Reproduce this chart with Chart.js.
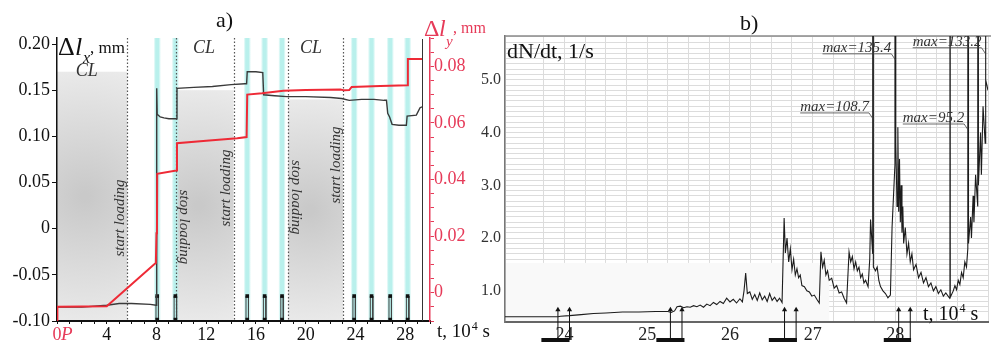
<!DOCTYPE html>
<html><head><meta charset="utf-8">
<script src="https://cdn.jsdelivr.net/npm/chart.js@4.4.1/dist/chart.umd.min.js"></script>
<style>
html,body{margin:0;padding:0;background:#fff;width:991px;height:342px;overflow:hidden;}
#ca{position:absolute;left:0;top:0;}
#cb{position:absolute;left:470px;top:0;}
</style></head><body>
<canvas id="ca" width="495" height="342"></canvas>
<canvas id="cb" width="521" height="342"></canvas>
<script>
// ---------- Panel a) data ----------
const dxTime  = [0, 2, 4, 5, 6, 7.5, 7.98, 8.02, 8.06, 8.3, 8.6, 9.0, 9.6, 9.65, 11, 12.5, 14, 15.1, 15.25, 15.3, 16, 16.55, 16.62, 17.5, 18.5, 20, 22, 22.9, 23.5, 24.5, 25.5, 26.3, 26.5, 26.6, 26.75, 26.95, 27.5, 28.1, 28.16, 28.9, 29.2, 29.36];
const dxValue = [-0.085, -0.085, -0.083, -0.081, -0.081, -0.082, -0.083, 0.152, 0.124, 0.121, 0.120, 0.119, 0.119, 0.152, 0.153, 0.154, 0.156, 0.157, 0.157, 0.170, 0.170, 0.169, 0.145, 0.144, 0.143, 0.143, 0.142, 0.141, 0.139, 0.140, 0.140, 0.139, 0.139, 0.125, 0.121, 0.113, 0.112, 0.112, 0.122, 0.123, 0.131, 0.132];
const dyTime  = [0, 0.03, 4.0, 7.8, 7.95, 8.0, 8.04, 8.06, 9.6, 9.65, 12, 14.5, 15.25, 15.3, 16.5, 18.2, 20, 22.8, 23.1, 23.5, 23.7, 26, 28.2, 28.22, 29.36];
const dyValue = [-0.01, -0.005, -0.0048, 0.010, 0.0105, 0.021, 0.022, 0.042, 0.0432, 0.0528, 0.0537, 0.0546, 0.055, 0.070, 0.0705, 0.0714, 0.0716, 0.0718, 0.0715, 0.0716, 0.0727, 0.073, 0.0733, 0.0826, 0.0826];
const xTicksA = [0, 4, 8, 12, 16, 20, 24, 28];
const yTicksA = [-0.10, -0.05, 0, 0.05, 0.10, 0.15, 0.20];
const pulseTimes = [8.06, 9.52, 15.3, 16.7, 18.1, 23.9, 25.3, 26.8, 28.2];
const pulseLevels = [-0.0985, -0.073];
const clampStart = [0, 9.6, 18.6];
const clampEnd   = [5.65, 14.2, 23.0];
const clampTop   = [0.17, 0.15, 0.14];
const clampLabelT = [1.5, 10.94, 19.55];
const clampLabelV = [0.165, 0.190, 0.190];
const switchTimes  = [5.65, 9.6, 14.2, 18.6, 23.0];
const switchLabels = ['start loading', 'stop loading', 'start loading', 'stop loading', 'start loading'];
const switchLabelV = [0.0116, 0.0018, 0.044, 0.034, 0.069];
const recordEnd = 29.36;

// ---------- Panel b) data ----------
const bTime = [
 23.28, 23.60, 23.92, 23.95, 24.06, 24.20, 24.35, 24.50, 24.70, 24.90, 25.10, 25.25, 25.29, 25.33,
 25.36, 25.40, 25.44, 25.48, 25.52, 25.56, 25.60, 25.64, 25.68, 25.72, 25.76, 25.80, 25.84, 25.88, 25.92, 25.96, 26.00, 26.04, 26.08, 26.12, 26.15,
 26.17, 26.19, 26.21, 26.24, 26.27, 26.30, 26.33, 26.36, 26.39, 26.42, 26.45, 26.48, 26.51, 26.54, 26.57, 26.60, 26.63,
 26.655, 26.67, 26.69, 26.71, 26.73, 26.75, 26.77, 26.79, 26.81, 26.83, 26.85, 26.87, 26.90, 26.93, 26.96, 26.99, 27.02, 27.05, 27.08,
 27.10, 27.12, 27.14, 27.16, 27.18, 27.20, 27.23, 27.26, 27.29, 27.32, 27.35, 27.38, 27.41,
 27.44, 27.46, 27.48, 27.50, 27.52, 27.54, 27.56, 27.58, 27.60, 27.62, 27.64, 27.67, 27.69, 27.70, 27.726, 27.73, 27.734, 27.76, 27.78, 27.80, 27.82, 27.85, 27.88, 27.91, 27.94,
 27.96, 27.995, 28.00, 28.005, 28.02, 28.03, 28.04, 28.05, 28.06, 28.07, 28.08, 28.09, 28.10, 28.12, 28.14, 28.16, 28.18, 28.20, 28.22, 28.25, 28.28, 28.31, 28.34, 28.37, 28.40, 28.43, 28.46, 28.49, 28.52, 28.55, 28.58, 28.61, 28.656,
 28.66, 28.664, 28.70, 28.72, 28.74, 28.76, 28.78, 28.80, 28.82, 28.84, 28.86, 28.876, 28.88, 28.884, 28.91, 28.92, 28.94, 28.95, 28.97, 28.996, 29.00, 29.004, 29.03, 29.04, 29.06, 29.086, 29.09, 29.094, 29.12
];
const bRate = [
 0.51, 0.51, 0.51, 0.52, 0.53, 0.55, 0.57, 0.58, 0.60, 0.60, 0.61, 0.61, 0.59, 0.62,
 0.70, 0.71, 0.68, 0.70, 0.69, 0.72, 0.70, 0.73, 0.69, 0.75, 0.72, 0.78, 0.74, 0.80, 0.76, 0.86, 0.79, 0.84, 0.77, 0.85, 0.79,
 1.00, 1.34, 0.95, 0.98, 0.84, 0.93, 0.82, 0.96, 0.83, 0.90, 0.80, 0.95, 0.82, 0.88, 0.80, 0.86, 0.78,
 2.38, 1.72, 2.00, 1.55, 1.80, 1.40, 1.60, 1.30, 1.42, 1.25, 1.30, 1.10, 1.08, 1.00, 0.98, 0.90, 0.92, 0.84, 0.77,
 1.74, 1.45, 1.58, 1.30, 1.38, 1.20, 1.24, 1.05, 1.10, 0.96, 0.98, 0.86, 0.77,
 1.74, 1.55, 1.65, 1.42, 1.55, 1.38, 1.45, 1.25, 1.32, 1.15, 1.20, 1.08, 1.60, 2.35, 1.70, 108.7, 1.45, 1.38, 1.45, 1.20, 1.08, 1.00, 0.95, 0.87, 0.92,
 2.20, 3.40, 135.4, 3.80, 2.60, 4.10, 2.50, 3.50, 2.30, 3.00, 2.10, 2.60, 1.90, 2.20, 1.70, 1.90, 1.55, 1.70, 1.40, 1.50, 1.25, 1.35, 1.15, 1.25, 1.08, 1.15, 1.00, 1.08, 0.95, 1.02, 0.90, 0.96, 0.86,
 30.0, 0.88, 1.00, 1.10, 1.02, 1.20, 1.12, 1.35, 1.25, 1.55, 1.45, 1.80, 95.2, 1.90, 2.40, 2.00, 2.80, 2.30, 3.20, 2.60, 40.0, 3.00, 4.00, 3.20, 4.50, 3.80, 133.2, 5.00, 4.80
];
const arrowTimes = [23.92, 24.06, 25.28, 25.42, 26.66, 26.80, 28.04, 28.18];
const arrowLevels = [0.07, 0.64];
const barStart = [23.72, 25.11, 26.47, 27.86];
const barEnd   = [24.06, 25.45, 26.81, 28.19];
const maxLabels = ['max=135.4', 'max=133.2', 'max=108.7', 'max=95.2'];
const maxLabelT = [28.00, 29.09, 27.73, 28.88];
const maxLabelV = [5.53, 5.645, 4.41, 4.20];
const blankEndT = 27.2, blankTopV = 1.53;

// ---------- styling ----------
const SERIF = '"Liberation Serif", "Times New Roman", serif';
const RED = '#e63a58';
const LINE_RED = '#ee2a36';
Chart.defaults.font.family = SERIF;
Chart.defaults.color = '#111';
const isInt = v => Math.abs(v - Math.round(v)) < 1e-6;
const isMult = (v, s) => Math.abs(v / s - Math.round(v / s)) < 1e-6;

function drawSup(ctx, x, y, main, sup, tail, size) {
  ctx.font = size + 'px ' + SERIF;
  ctx.fillText(main, x, y);
  let w = ctx.measureText(main).width;
  ctx.font = Math.round(size * 0.62) + 'px ' + SERIF;
  ctx.fillText(sup, x + w + 1, y - size * 0.38);
  w += ctx.measureText(sup).width + 1;
  ctx.font = size + 'px ' + SERIF;
  ctx.fillText(tail, x + w, y);
}

const decorA = {
  id: 'decorA',
  beforeDraw(chart) {
    const {ctx, chartArea: ca, scales} = chart;
    const x = scales.x, y = scales.yL;
    ctx.save();
    for (let i = 0; i < clampStart.length; i++) {
      const l = x.getPixelForValue(clampStart[i]), r = x.getPixelForValue(clampEnd[i]);
      const t = y.getPixelForValue(clampTop[i]), b = ca.bottom;
      const cx = l + (r - l) * 0.4, cy = t + (b - t) * 0.5;
      const g = ctx.createRadialGradient(cx, cy, 4, cx, cy, Math.max(r - l, b - t) * 0.62);
      g.addColorStop(0, '#c9c9c9');
      g.addColorStop(1, '#f1f1f1');
      ctx.fillStyle = g;
      ctx.fillRect(l, t, r - l, b - t);
    }
    pulseTimes.forEach(t => {
      const xc = x.getPixelForValue(t);
      const hw = x.getPixelForValue(t + 0.3) - xc;
      const g = ctx.createLinearGradient(xc - hw, 0, xc + hw, 0);
      g.addColorStop(0, 'rgba(185,240,236,0)');
      g.addColorStop(0.3, 'rgba(185,240,236,1)');
      g.addColorStop(0.7, 'rgba(185,240,236,1)');
      g.addColorStop(1, 'rgba(185,240,236,0)');
      ctx.fillStyle = g;
      ctx.fillRect(xc - hw, ca.top, 2 * hw, ca.bottom - ca.top);
    });
    ctx.restore();
  },
  beforeDatasetsDraw(chart) {
    const {ctx, chartArea: ca, scales} = chart;
    const x = scales.x, y = scales.yL;
    ctx.save();
    ctx.strokeStyle = '#555';
    ctx.lineWidth = 1.2;
    ctx.setLineDash([1.5, 2]);
    switchTimes.forEach(t => {
      const px = Math.round(x.getPixelForValue(t)) + 0.5;
      ctx.beginPath(); ctx.moveTo(px, ca.top); ctx.lineTo(px, ca.bottom); ctx.stroke();
    });
    ctx.setLineDash([]);
    ctx.fillStyle = '#333';
    ctx.font = 'italic 15px ' + SERIF;
    ctx.textAlign = 'center'; ctx.textBaseline = 'middle';
    switchTimes.forEach((t, i) => {
      const start = switchLabels[i].indexOf('start') === 0;
      const px = x.getPixelForValue(t) + (start ? -7 : 8);
      const py = y.getPixelForValue(switchLabelV[i]);
      ctx.save(); ctx.translate(px, py); ctx.rotate(start ? -Math.PI / 2 : Math.PI / 2);
      ctx.fillText(switchLabels[i], 0, 0); ctx.restore();
    });
    const fx = Math.round(x.getPixelForValue(recordEnd)) + 0.5;
    ctx.strokeStyle = '#333'; ctx.lineWidth = 1;
    ctx.beginPath(); ctx.moveTo(fx, ca.top + 1); ctx.lineTo(fx, ca.bottom); ctx.stroke();
    ctx.textAlign = 'left'; ctx.textBaseline = 'alphabetic';
    ctx.font = 'italic 18px ' + SERIF; ctx.fillStyle = '#333';
    clampLabelT.forEach((t, i) => ctx.fillText('CL', x.getPixelForValue(t), y.getPixelForValue(clampLabelV[i])));
    ctx.restore();
  },
  afterDraw(chart) {
    const {ctx} = chart;
    ctx.save();
    ctx.textBaseline = 'alphabetic'; ctx.textAlign = 'left';
    ctx.fillStyle = '#111';
    ctx.font = '22px ' + SERIF; ctx.fillText('a)', 216, 27);
    ctx.font = '26px ' + SERIF; ctx.fillText('Δ', 58, 55);
    ctx.font = 'italic 26px ' + SERIF; ctx.fillText('l', 75, 55);
    ctx.font = 'italic 16px ' + SERIF; ctx.fillText('x', 83, 63);
    ctx.font = '17px ' + SERIF; ctx.fillText(', mm', 90, 53);
    ctx.fillStyle = RED;
    ctx.font = '24px ' + SERIF; ctx.fillText('Δ', 424, 36);
    ctx.font = 'italic 24px ' + SERIF; ctx.fillText('l', 439, 36);
    ctx.font = 'italic 15px ' + SERIF; ctx.fillText('y', 446, 46);
    ctx.font = '16px ' + SERIF; ctx.fillText(', mm', 453, 33);
    ctx.font = 'italic 19px ' + SERIF; ctx.fillText('P', 61, 340);
    ctx.fillStyle = '#111';
    drawSup(ctx, 437, 337, 't, 10', '4', ' s', 19);
    ctx.restore();
  }
};

new Chart(document.getElementById('ca'), {
  type: 'line',
  data: { datasets: [
    { label: 'Δl_y', data: dyTime.map((t, i) => ({x: t, y: dyValue[i]})), yAxisID: 'yR',
      borderColor: LINE_RED, borderWidth: 2, pointRadius: 0, tension: 0 },
    { label: 'Δl_x', data: dxTime.map((t, i) => ({x: t, y: dxValue[i]})), yAxisID: 'yL',
      borderColor: '#3a3a3a', borderWidth: 1.4, pointRadius: 0, tension: 0 },
    { label: 'pulse markers', data: pulseTimes.flatMap(t => pulseLevels.map(v => ({x: t, y: v}))), yAxisID: 'yL',
      showLine: false, pointStyle: 'rect', pointRadius: 2.6, pointBackgroundColor: '#111', pointBorderColor: '#111', pointBorderWidth: 0 },
    { label: 'pulse brackets', data: pulseTimes.flatMap(t => [
        {x: t - 0.1, y: pulseLevels[0]}, {x: t - 0.1, y: pulseLevels[1]}, {x: t - 0.1, y: null},
        {x: t + 0.1, y: pulseLevels[1]}, {x: t + 0.1, y: pulseLevels[0]}, {x: t + 0.1, y: null}]),
      yAxisID: 'yL', borderColor: '#444', borderWidth: 1, pointRadius: 0, spanGaps: false }
  ]},
  options: {
    responsive: false, animation: false, events: [],
    layout: { padding: { top: 38, left: 0, right: 0, bottom: 0 } },
    plugins: { legend: { display: false }, tooltip: { enabled: false } },
    scales: {
      x: { type: 'linear', min: 0, max: 30,
        ticks: { stepSize: 1, autoSkip: false, maxRotation: 0, padding: 0, font: { size: 18 },
          color: c => (c.tick && c.tick.value === 0) ? RED : '#111',
          callback: v => xTicksA.includes(v) ? String(v) : '' },
        grid: { drawOnChartArea: false, tickLength: 3, color: '#111' },
        border: { color: '#111', width: 2 },
        afterFit: s => { s.height = 21; } },
      yL: { type: 'linear', position: 'left', min: -0.10, max: 0.2065,
        afterBuildTicks: s => { s.ticks = yTicksA.map(v => ({value: v})); },
        ticks: { autoSkip: false, padding: 2, font: { size: 18 }, color: '#111',
          callback: v => Math.abs(v) < 1e-9 ? '0' : v.toFixed(2) },
        grid: { drawOnChartArea: false, tickLength: 5, color: '#111' },
        border: { color: '#111', width: 1.5 },
        afterFit: s => { s.width = 57; } },
      yR: { type: 'linear', position: 'right', min: -0.01, max: 0.09,
        ticks: { stepSize: 0.005, autoSkip: false, padding: 0, font: { size: 18 }, color: RED,
          callback: v => isMult(v, 0.02) ? (Math.abs(v) < 1e-9 ? '0' : v.toFixed(2)) : '' },
        grid: { drawOnChartArea: false, tickLength: 4, color: RED },
        border: { color: RED, width: 1.5 },
        afterFit: s => { s.width = 65; } }
    }
  },
  plugins: [decorA]
});

// ---------- Panel b) ----------
const decorB = {
  id: 'decorB',
  beforeDatasetsDraw(chart) {
    const {ctx, chartArea: ca, scales: {x, y}} = chart;
    ctx.save();
    ctx.fillStyle = '#f9f9f9';
    const r = x.getPixelForValue(blankEndT), t = y.getPixelForValue(blankTopV);
    ctx.fillRect(ca.left + 1, t, r - ca.left - 1, ca.bottom - 1 - t);
    ctx.strokeStyle = '#8a8a8a'; ctx.lineWidth = 1.5;
    ctx.beginPath(); ctx.moveTo(ca.left, ca.top); ctx.lineTo(ca.right + 3, ca.top); ctx.stroke();
    ctx.restore();
  },
  afterDraw(chart) {
    const {ctx, scales: {x, y}} = chart;
    ctx.save();
    ctx.textBaseline = 'alphabetic'; ctx.textAlign = 'left'; ctx.fillStyle = '#111';
    ctx.font = '22px ' + SERIF; ctx.fillText('b)', 270, 30);
    ctx.font = '22px ' + SERIF; ctx.fillText('dN/dt, 1/s', 37, 58);
    drawSup(ctx, 453, 320, 't, 10', '4', ' s', 20);
    ctx.font = 'italic 15px ' + SERIF; ctx.fillStyle = '#333';
    ctx.strokeStyle = '#444'; ctx.lineWidth = 0.8;
    maxLabels.forEach((txt, i) => {
      const sx = x.getPixelForValue(maxLabelT[i]);
      const by = y.getPixelForValue(maxLabelV[i]);
      const ex = sx - 4;
      const w = ctx.measureText(txt).width;
      ctx.textAlign = 'right';
      ctx.fillText(txt, ex, by);
      ctx.beginPath(); ctx.moveTo(ex - w, by + 2); ctx.lineTo(ex, by + 2); ctx.lineTo(sx, by + 8); ctx.stroke();
    });
    ctx.restore();
  }
};

new Chart(document.getElementById('cb'), {
  type: 'line',
  data: { datasets: [
    { label: 'dN/dt', data: bTime.map((t, i) => ({x: t, y: bRate[i]})),
      borderColor: '#1c1c1c', borderWidth: 1.1, pointRadius: 0, tension: 0 },
    { label: 'arrows', data: arrowTimes.flatMap(t => [{x: t, y: arrowLevels[0]}, {x: t, y: arrowLevels[1]}, {x: t, y: null}]),
      borderColor: '#111', borderWidth: 1, spanGaps: false, clip: false,
      pointStyle: 'triangle', pointBackgroundColor: '#111', pointBorderColor: '#111', pointBorderWidth: 0,
      pointRadius: c => (c.raw && c.raw.y === arrowLevels[1]) ? 3 : 0 },
    { label: 'bars', data: barStart.flatMap((s, i) => [{x: s, y: arrowLevels[0]}, {x: barEnd[i], y: arrowLevels[0]}, {x: barEnd[i], y: null}]),
      borderColor: '#111', borderWidth: 4, spanGaps: false, clip: false, pointRadius: 0 }
  ]},
  options: {
    responsive: false, animation: false, events: [],
    layout: { padding: { top: 36, left: 0, right: 3, bottom: 0 } },
    plugins: { legend: { display: false }, tooltip: { enabled: false } },
    scales: {
      x: { type: 'linear', min: 23.28, max: 29.12,
        ticks: { stepSize: 0.25, autoSkip: false, maxRotation: 0, padding: 0, font: { size: 18 }, color: '#222',
          callback: v => isInt(v) ? String(Math.round(v)) : '' },
        grid: { color: '#dcdcdc', lineWidth: 1, tickLength: 2, tickColor: 'rgba(0,0,0,0)' },
        border: { color: '#666', width: 2 },
        afterFit: s => { s.height = 20; } },
      y: { type: 'linear', min: 0.41, max: 5.83,
        ticks: { stepSize: 0.1, autoSkip: false, padding: 4, font: { size: 16 }, color: '#333',
          callback: v => (isInt(v) && v > 0.5) ? v.toFixed(1) : '' },
        grid: { color: '#dcdcdc', lineWidth: 1, tickLength: 0 },
        border: { color: '#777', width: 1.5 },
        afterFit: s => { s.width = 35; } }
    }
  },
  plugins: [decorB]
});
</script>
</body></html>
